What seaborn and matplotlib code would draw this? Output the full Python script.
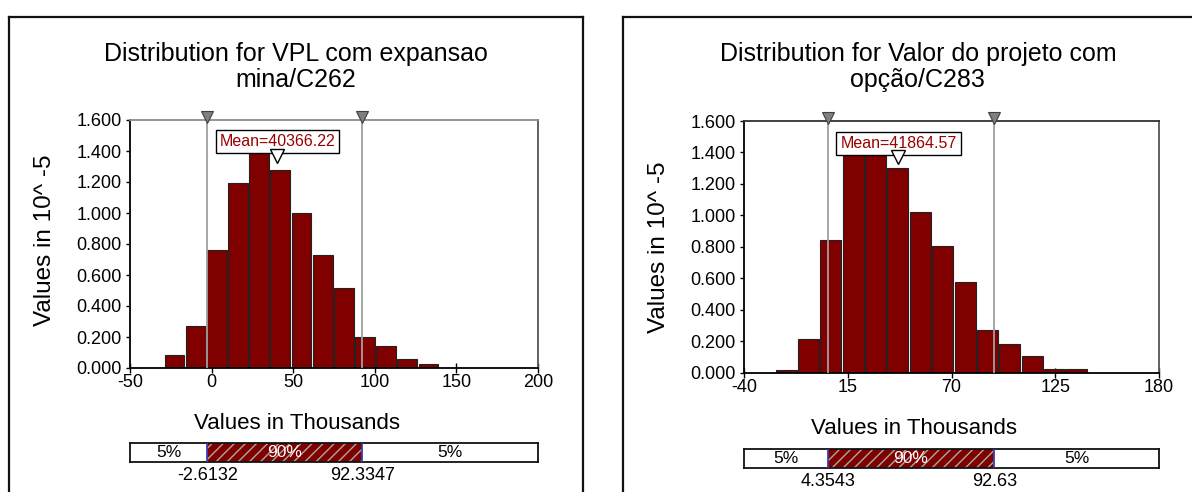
import numpy as np
import pandas as pd
import matplotlib
matplotlib.use("Agg")
import matplotlib.pyplot as plt
from matplotlib.lines import Line2D
from matplotlib.transforms import blended_transform_factory
import seaborn as sns

sns.set_style("white")
plt.rcParams["font.family"] = ["Liberation Sans", "DejaVu Sans"]
plt.rcParams["hatch.linewidth"] = 1.0
plt.rcParams["text.color"] = "black"
plt.rcParams["axes.labelcolor"] = "black"
plt.rcParams["xtick.color"] = "black"
plt.rcParams["ytick.color"] = "black"

MAROON = "#800000"
MEAN_RED = "#9a0000"

# ---- VPL com expansao (values in thousands, density in 10^-5) ----
vpl_title = "Distribution for VPL com expansao\nmina/C262"
vpl_bin_start = -29.2
vpl_bin_width = 12.97
vpl_density = [0.084, 0.268, 0.760, 1.194, 1.450, 1.278, 0.999,
               0.730, 0.515, 0.200, 0.144, 0.060, 0.024]
vpl_mean = 40366.22
vpl_p5 = -2.6132
vpl_p95 = 92.3347
vpl_xticks = [-50, 0, 50, 100, 150, 200]

# ---- Valor do projeto com opção ----
opc_title = "Distribution for Valor do projeto com\nopção/C283"
opc_bin_start = -23.55
opc_bin_width = 11.85
opc_density = [0.017, 0.216, 0.843, 1.500, 1.490, 1.303, 1.019,
               0.803, 0.574, 0.269, 0.182, 0.108, 0.022, 0.021]
opc_mean = 41864.57
opc_p5 = 4.3543
opc_p95 = 92.63
opc_xticks = [-40, 15, 70, 125, 180]

yticks = [0.0, 0.2, 0.4, 0.6, 0.8, 1.0, 1.2, 1.4, 1.6]
x_label = "Values in Thousands"
y_label = "Values in 10^ -5"

W, H = 1192, 492
fig = plt.figure(figsize=(W / 100, H / 100), dpi=100)


def fx(px):
    return px / W


def fy(py):
    return 1 - py / H


def frame(x_left, x_right, y_top, open_right=False):
    kw = dict(transform=fig.transFigure, color="#111111", lw=1.6,
              solid_capstyle="projecting")
    fig.add_artist(Line2D([fx(x_left), fx(x_right)], [fy(y_top), fy(y_top)], **kw))
    fig.add_artist(Line2D([fx(x_left), fx(x_left)], [fy(y_top), -0.05], **kw))
    if not open_right:
        fig.add_artist(Line2D([fx(x_right), fx(x_right)], [fy(y_top), -0.05], **kw))


def panel(ax, bar_ax, title, start, width, density, mean, p5, p95, xticks,
          title_xy, ylab_xy, xlab_xy, top_spine_color):
    edges = [start + width * i for i in range(len(density) + 1)]
    centers = [e + width / 2 for e in edges[:-1]]
    df = pd.DataFrame({"value": centers, "density": density})
    sns.histplot(data=df, x="value", weights="density", bins=edges, ax=ax,
                 color=MAROON, alpha=1, edgecolor="#222222", linewidth=0.8,
                 shrink=0.94, zorder=2)

    ax.set_xlim(xticks[0], xticks[-1])
    ax.set_ylim(yticks[0], yticks[-1])
    ax.set_xticks(xticks)
    ax.set_xticklabels([str(t) for t in xticks])
    ax.set_yticks(yticks)
    ax.set_yticklabels([f"{t:.3f}" for t in yticks])
    ax.tick_params(axis="x", bottom=True, direction="inout", length=7,
                   width=1, pad=1, labelsize=13)
    ax.tick_params(axis="y", left=True, direction="out", length=3,
                   width=1, pad=3, labelsize=13)
    for side in ("left", "bottom"):
        ax.spines[side].set_color("black")
        ax.spines[side].set_linewidth(1.3)
    ax.spines["top"].set_color(top_spine_color)
    ax.spines["top"].set_linewidth(1.3)
    ax.spines["right"].set_color("#555555")
    ax.spines["right"].set_linewidth(1.3)

    # 5% / 95% markers
    ax.vlines([p5, p95], yticks[0], yticks[-1], color="#a0a0a0", lw=1.3, zorder=3)
    ax.plot([p5, p95], [1.619, 1.619], linestyle="none", marker="v", ms=9,
            mfc="#808080", mec="#404040", mew=0.8, clip_on=False, zorder=6)

    # mean label and pointer
    m = mean / 1000
    ax.text(m, 1.46, f"Mean={mean:.2f}", ha="center", va="center",
            color=MEAN_RED, fontsize=11.5, zorder=6,
            bbox=dict(boxstyle="square,pad=0.25", fc="white", ec="black", lw=1))
    ax.plot([m], [1.37], linestyle="none", marker="v", ms=10, mfc="white",
            mec="black", mew=1, clip_on=False, zorder=7)

    ax.text(*title_xy, title, transform=ax.transAxes, ha="center", va="center",
            fontsize=18, linespacing=1.15)
    ax.set_ylabel(y_label, fontsize=17.5)
    ax.yaxis.set_label_coords(*ylab_xy)
    ax.yaxis.label.set_va("center")
    ax.set_xlabel(x_label, fontsize=16)
    ax.xaxis.set_label_coords(*xlab_xy)
    ax.xaxis.label.set_va("center")

    # percentile bar below the chart, same x scale
    lo, hi = xticks[0], xticks[-1]
    bar_ax.set_xlim(lo, hi)
    bar_ax.set_ylim(0, 1)
    bar_ax.barh(0.5, p5 - lo, left=lo, height=1, color="white", linewidth=0)
    bar_ax.barh(0.5, p95 - p5, left=p5, height=1, color=MAROON,
                edgecolor="#a8a8a8", hatch="///", linewidth=0)
    bar_ax.barh(0.5, hi - p95, left=p95, height=1, color="white", linewidth=0)
    bar_ax.vlines([p5, p95], 0, 1, color="#3b3bb0", lw=1.3, zorder=3)
    bar_ax.set_xticks([])
    bar_ax.set_yticks([])
    for s in bar_ax.spines.values():
        s.set_visible(True)
        s.set_color("#111111")
        s.set_linewidth(1.3)
    bar_ax.text((lo + p5) / 2, 0.5, "5%", ha="center", va="center", fontsize=12.5)
    bar_ax.text((p5 + p95) / 2, 0.5, "90%", ha="center", va="center",
                fontsize=12.5, color="white")
    bar_ax.text((p95 + hi) / 2, 0.5, "5%", ha="center", va="center", fontsize=12.5)
    tr = blended_transform_factory(bar_ax.transData, bar_ax.transAxes)
    for v in (p5, p95):
        bar_ax.text(v, -0.25, str(v), transform=tr, ha="center", va="top",
                    fontsize=13)


frame(9, 583, 17)
frame(623, 1250, 17, open_right=True)

ax1 = fig.add_axes([fx(130), fy(368), fx(538) - fx(130), fy(120) - fy(368)])
bar1 = fig.add_axes([fx(130), fy(462), fx(538) - fx(130), fy(443) - fy(462)])
panel(ax1, bar1, vpl_title, vpl_bin_start, vpl_bin_width, vpl_density,
      vpl_mean, vpl_p5, vpl_p95, vpl_xticks,
      title_xy=(0.407, 1.214), ylab_xy=(-0.208, 0.516),
      xlab_xy=(0.409, -0.222), top_spine_color="#8c8c8c")

ax2 = fig.add_axes([fx(744), fy(372.7), fx(1159) - fx(744), fy(121) - fy(372.7)])
bar2 = fig.add_axes([fx(744), fy(468), fx(1159) - fx(744), fy(449) - fy(468)])
panel(ax2, bar2, opc_title, opc_bin_start, opc_bin_width, opc_density,
      opc_mean, opc_p5, opc_p95, opc_xticks,
      title_xy=(0.419, 1.2145), ylab_xy=(-0.205, 0.5),
      xlab_xy=(0.41, -0.22), top_spine_color="#333333")

fig.savefig("out.png", dpi=100, facecolor="white")
